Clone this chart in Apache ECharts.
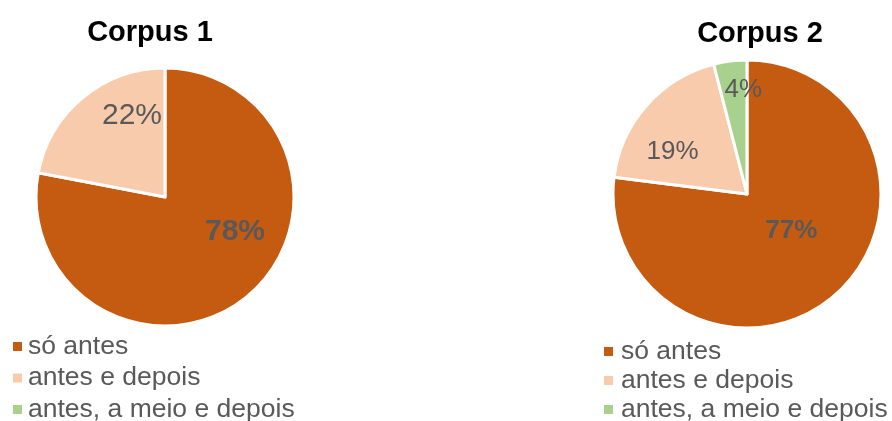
<!DOCTYPE html>
<html>
<head>
<meta charset="utf-8">
<script src="https://cdn.jsdelivr.net/npm/echarts@6/dist/echarts.min.js"></script>
<style>
html,body{margin:0;padding:0;background:#fff;}
#chart{width:892px;height:421px;}
</style>
</head>
<body>
<div id="chart"></div>
<script>
const categories = ['só antes', 'antes e depois', 'antes, a meio e depois'];
const corpus1Values = [78, 22, 0];
const corpus2Values = [77, 19, 4];
const titles = ['Corpus 1', 'Corpus 2'];

const colors = ['#C55A11', '#F8CBAD', '#A9D18E'];
const offsets1 = [[27, -17], [10, -29], [0, 0]];
const offsets2 = [[-2, -16], [-22, 4], [5, -35]];

function buildData(values, offsets, fontSize) {
  const out = [];
  values.forEach((v, i) => {
    if (v <= 0) return;
    out.push({
      name: categories[i],
      value: v,
      label: {
        offset: offsets[i],
        fontWeight: i === 0 ? 'bold' : 'normal',
        fontSize: fontSize
      }
    });
  });
  return out;
}

const chart = echarts.init(document.getElementById('chart'));
const textColor = '#595959';
const fontFamily = 'Liberation Sans, Arial, sans-serif';

function legendCfg(left, top, gap, textPad) {
  return {
    orient: 'vertical',
    left: left,
    top: top,
    height: 120,
    data: categories,
    itemWidth: 11,
    itemHeight: 11,
    itemGap: gap,
    icon: 'rect',
    selectedMode: false,
    textStyle: { color: textColor, fontSize: 26.5, fontFamily: fontFamily, lineHeight: 27, padding: [0, 0, 0, textPad] }
  };
}

chart.setOption({
  animation: false,
  color: colors,
  title: [
    { text: titles[0], left: 145, top: 13, textAlign: 'center',
      textStyle: { fontSize: 29, fontWeight: 'bold', color: '#000', fontFamily: fontFamily } },
    { text: titles[1], left: 755, top: 14, textAlign: 'center',
      textStyle: { fontSize: 29, fontWeight: 'bold', color: '#000', fontFamily: fontFamily } }
  ],
  legend: [
    legendCfg(6, 328, 4.5, 0),
    legendCfg(597, 333, 2, 2)
  ],
  series: [
    {
      type: 'pie',
      center: [165, 197],
      radius: 129,
      startAngle: 90,
      clockwise: true,
      itemStyle: { borderColor: '#fff', borderWidth: 3 },
      label: { position: 'inside', formatter: '{c}%', color: textColor, fontFamily: fontFamily },
      labelLine: { show: false },
      emphasis: { disabled: true },
      data: buildData(corpus1Values, offsets1, 30)
    },
    {
      type: 'pie',
      center: [747, 194],
      radius: 134,
      startAngle: 90,
      clockwise: true,
      itemStyle: { borderColor: '#fff', borderWidth: 3 },
      label: { position: 'inside', formatter: '{c}%', color: textColor, fontFamily: fontFamily },
      labelLine: { show: false },
      emphasis: { disabled: true },
      data: buildData(corpus2Values, offsets2, 26)
    }
  ]
});
</script>
</body>
</html>
